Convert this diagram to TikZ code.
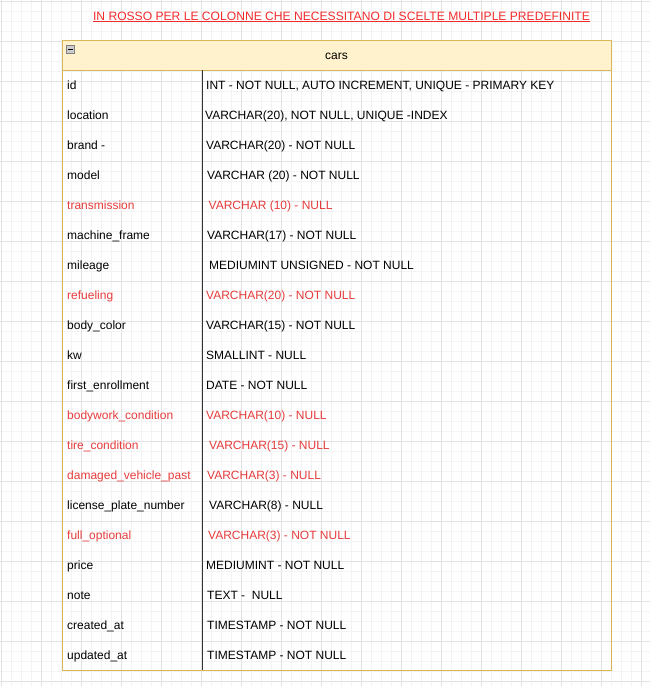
\documentclass[tikz,border=0pt]{standalone}
\usepackage{fontspec}
\setmainfont{Liberation Sans}
\definecolor{gridminor}{HTML}{F3F3F3}
\definecolor{gridmajor}{HTML}{E2E2E2}
\definecolor{tabline}{HTML}{D6B656}
\definecolor{tabhead}{HTML}{FFF2CC}
\definecolor{choice}{HTML}{E63B3B}
\definecolor{titlered}{HTML}{F22B2B}
\begin{document}
\begin{tikzpicture}[x=1pt,y=-1pt,
  field/.style={anchor=base west, inner sep=0pt, font=\fontsize{12}{14}\selectfont},
  choicefield/.style={field, text=choice}]
\useasboundingbox (0,0) rectangle (650,686);
% background grid
\foreach \x in {1.5,11.5,...,650} \draw[gridminor, line width=0.8pt] (\x,0) -- (\x,686);
\foreach \y in {1.5,11.5,...,686} \draw[gridminor, line width=0.8pt] (0,\y) -- (650,\y);
\foreach \x in {1.5,41.5,...,650} \draw[gridmajor, line width=0.8pt] (\x,0) -- (\x,686);
\foreach \y in {1.5,41.5,...,686} \draw[gridmajor, line width=0.8pt] (0,\y) -- (650,\y);
% title
\node[anchor=base, inner sep=0pt, text=titlered, font=\fontsize{12.1}{14}\selectfont] (title) at (341.5,20) {\underline{IN ROSSO PER LE COLONNE CHE NECESSITANO DI SCELTE MULTIPLE PREDEFINITE}};
% table
\node[draw=tabline, line width=1pt, anchor=north west, minimum width=549pt, minimum height=630pt, inner sep=0pt] (cars) at (62,40) {};
\node[draw=tabline, fill=tabhead, line width=1pt, anchor=north west, minimum width=549pt, minimum height=30pt, inner sep=0pt] (head) at (62,40) {};
\node[anchor=base, inner sep=0pt, font=\fontsize{12}{14}\selectfont] (headtitle) at (336.5,59) {cars};
\node[draw=gray, fill=black!20, line width=0.6pt, minimum size=8pt, inner sep=0pt] (fold) at (70.5,49.5) {};
\draw[line width=1pt] ([xshift=2pt]fold.west) -- ([xshift=-2pt]fold.east);
\coordinate (dtop) at (202,70);
\coordinate (dbot) at (202,670);
\path[draw, black!80, line width=1pt] (dtop) -- (dbot);
% columns
\node[field] (f1) at (67,89.5) {id};
\node[field] (t1) at (206,89.5) {INT - NOT NULL, AUTO INCREMENT, UNIQUE - PRIMARY KEY};
\node[field] (f2) at (67,119.5) {location};
\node[field] (t2) at (205,119.5) {VARCHAR(20), NOT NULL, UNIQUE -INDEX};
\node[field] (f3) at (67,149.5) {brand -};
\node[field] (t3) at (206,149.5) {VARCHAR(20) - NOT NULL};
\node[field] (f4) at (67,179.5) {model};
\node[field] (t4) at (207,179.5) {VARCHAR (20) - NOT NULL};
\node[choicefield] (f5) at (67,209.5) {transmission};
\node[choicefield] (t5) at (208.5,209.5) {VARCHAR (10) - NULL};
\node[field] (f6) at (67,239.5) {machine\_frame};
\node[field] (t6) at (207,239.5) {VARCHAR(17) - NOT NULL};
\node[field] (f7) at (67,269.5) {mileage};
\node[field] (t7) at (209,269.5) {MEDIUMINT UNSIGNED - NOT NULL};
\node[choicefield] (f8) at (67,299.5) {refueling};
\node[choicefield] (t8) at (206,299.5) {VARCHAR(20) - NOT NULL};
\node[field] (f9) at (67,329.5) {body\_color};
\node[field] (t9) at (206,329.5) {VARCHAR(15) - NOT NULL};
\node[field] (f10) at (67,359.5) {kw};
\node[field] (t10) at (206,359.5) {SMALLINT - NULL};
\node[field] (f11) at (67,389.5) {first\_enrollment};
\node[field] (t11) at (206,389.5) {DATE - NOT NULL};
\node[choicefield] (f12) at (67,419.5) {bodywork\_condition};
\node[choicefield] (t12) at (206,419.5) {VARCHAR(10) - NULL};
\node[choicefield] (f13) at (67,449.5) {tire\_condition};
\node[choicefield] (t13) at (209,449.5) {VARCHAR(15) - NULL};
\node[choicefield] (f14) at (67,479.5) {damaged\_vehicle\_past};
\node[choicefield] (t14) at (207,479.5) {VARCHAR(3) - NULL};
\node[field] (f15) at (67,509.5) {license\_plate\_number};
\node[field] (t15) at (209,509.5) {VARCHAR(8) - NULL};
\node[choicefield] (f16) at (67,539.5) {full\_optional};
\node[choicefield] (t16) at (208,539.5) {VARCHAR(3) - NOT NULL};
\node[field] (f17) at (67,569.5) {price};
\node[field] (t17) at (206,569.5) {MEDIUMINT - NOT NULL};
\node[field] (f18) at (67,599.5) {note};
\node[field] (t18) at (207,599.5) {TEXT -\ \ NULL};
\node[field] (f19) at (67,629.5) {created\_at};
\node[field] (t19) at (207,629.5) {TIMESTAMP - NOT NULL};
\node[field] (f20) at (67,659.5) {updated\_at};
\node[field] (t20) at (207,659.5) {TIMESTAMP - NOT NULL};
\end{tikzpicture}
\end{document}
